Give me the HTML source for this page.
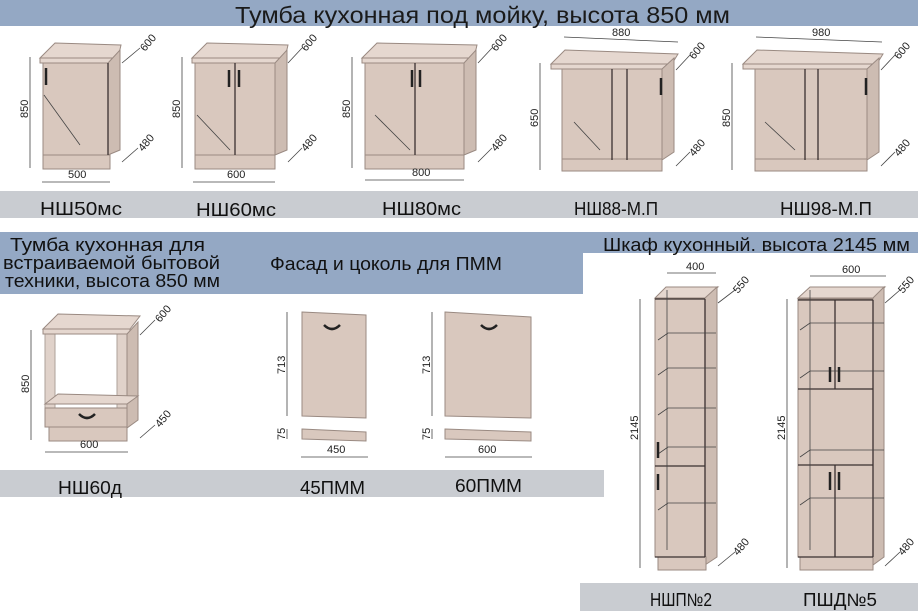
<!DOCTYPE html>
<html><head><meta charset="utf-8"><style>
html,body{margin:0;padding:0;background:#fff}
svg{display:block}
text{font-family:"Liberation Sans",sans-serif}
.t{font-size:23px;fill:#1a1a1a}
.l{font-size:18px;fill:#111}
.d{font-size:11px;fill:#222}
.c{fill:#d9c8be;stroke:#9a8a82;stroke-width:1}
.tp{fill:#e5d7cf;stroke:#9a8a82;stroke-width:1}
.s{fill:#cdbcb2;stroke:#9a8a82;stroke-width:1}
.dl{stroke:#444;stroke-width:0.8;fill:none}
.dk{stroke:#3a3030;stroke-width:1.3;fill:none}
.h{stroke:#222;stroke-width:2.5;fill:none}
</style></head><body>
<svg width="918" height="611" viewBox="0 0 918 611" xmlns="http://www.w3.org/2000/svg">
<rect x="0" y="0" width="918" height="26" fill="#94a8c4"/>
<rect x="0" y="191" width="918" height="27" fill="#c9ccd1"/>
<rect x="0" y="232" width="583" height="62" fill="#94a8c4"/>
<rect x="583" y="232" width="335" height="21" fill="#94a8c4"/>
<rect x="0" y="470" width="604" height="27" fill="#c9ccd1"/>
<rect x="580" y="583" width="338" height="28" fill="#c9ccd1"/>
<text x="235" y="23" class="t" textLength="495" lengthAdjust="spacingAndGlyphs">Тумба кухонная под мойку, высота 850 мм</text>
<text x="40" y="215" class="l" textLength="82" lengthAdjust="spacingAndGlyphs">НШ50мс</text>
<text x="196" y="216" class="l" textLength="80" lengthAdjust="spacingAndGlyphs">НШ60мс</text>
<text x="382" y="215" class="l" textLength="79" lengthAdjust="spacingAndGlyphs">НШ80мс</text>
<text x="574" y="215" class="l" textLength="84" lengthAdjust="spacingAndGlyphs">НШ88-М.П</text>
<text x="780" y="215" class="l" textLength="92" lengthAdjust="spacingAndGlyphs">НШ98-М.П</text>
<text x="10" y="251" class="l" textLength="195" lengthAdjust="spacingAndGlyphs">Тумба кухонная для</text>
<text x="3" y="269" class="l" textLength="217" lengthAdjust="spacingAndGlyphs">встраиваемой бытовой</text>
<text x="5" y="287" class="l" textLength="215" lengthAdjust="spacingAndGlyphs">техники, высота 850 мм</text>
<text x="270" y="270" class="l" textLength="232" lengthAdjust="spacingAndGlyphs">Фасад и цоколь для ПММ</text>
<text x="603" y="251" class="l" textLength="307" lengthAdjust="spacingAndGlyphs">Шкаф кухонный. высота 2145 мм</text>
<text x="58" y="494" class="l" textLength="64" lengthAdjust="spacingAndGlyphs">НШ60д</text>
<text x="300" y="494" class="l" textLength="65" lengthAdjust="spacingAndGlyphs">45ПММ</text>
<text x="455" y="492" class="l" textLength="67" lengthAdjust="spacingAndGlyphs">60ПММ</text>
<text x="650" y="606" class="l" textLength="62" lengthAdjust="spacingAndGlyphs">НШП№2</text>
<text x="803" y="606" class="l" textLength="74" lengthAdjust="spacingAndGlyphs">ПШД№5</text>

<g>
<polygon class="tp" points="40,58 55,43 121,45 118,58"/>
<rect class="tp" x="40" y="58" width="78" height="5"/>
<polygon class="s" points="108,63 120,50 120,150 108,155"/>
<rect class="c" x="43" y="63" width="65" height="92"/>
<rect class="c" x="43" y="155" width="67" height="14"/>
<line class="dk" x1="108" y1="63" x2="108" y2="155"/>
<line class="dl" x1="44" y1="95" x2="80" y2="145"/>
<line class="h" x1="46" y1="68" x2="46" y2="85"/>
<line class="dl" x1="30" y1="57" x2="30" y2="168"/><text class="d" transform="translate(28,118) rotate(-90)">850</text>
<line class="dl" x1="42" y1="182" x2="110" y2="182"/><text class="d" x="68" y="178">500</text>
<line class="dl" x1="122" y1="63" x2="140" y2="48"/><text class="d" transform="translate(145,52) rotate(-50)">600</text>
<line class="dl" x1="122" y1="162" x2="138" y2="148"/><text class="d" transform="translate(143,152) rotate(-50)">480</text>
</g>
<g>
<polygon class="tp" points="192,58 207,43 288,45 285,58"/>
<rect class="tp" x="192" y="58" width="93" height="5"/>
<polygon class="s" points="275,63 287,50 287,150 275,155"/>
<rect class="c" x="195" y="63" width="80" height="92"/>
<rect class="c" x="195" y="155" width="80" height="14"/>
<line class="dk" x1="235" y1="63" x2="235" y2="155"/>
<line class="dl" x1="197" y1="115" x2="230" y2="150"/>
<line class="h" x1="229" y1="70" x2="229" y2="87"/><line class="h" x1="239" y1="70" x2="239" y2="87"/>
<line class="dl" x1="182" y1="57" x2="182" y2="168"/><text class="d" transform="translate(180,118) rotate(-90)">850</text>
<line class="dl" x1="193" y1="182" x2="275" y2="182"/><text class="d" x="227" y="178">600</text>
<line class="dl" x1="288" y1="63" x2="302" y2="48"/><text class="d" transform="translate(306,52) rotate(-50)">600</text>
<line class="dl" x1="288" y1="162" x2="302" y2="148"/><text class="d" transform="translate(306,152) rotate(-50)">480</text>
</g>
<g>
<polygon class="tp" points="362,58 377,43 477,45 474,58"/>
<rect class="tp" x="362" y="58" width="112" height="5"/>
<polygon class="s" points="464,63 476,50 476,150 464,155"/>
<rect class="c" x="365" y="63" width="99" height="92"/>
<rect class="c" x="365" y="155" width="99" height="14"/>
<line class="dk" x1="415" y1="63" x2="415" y2="155"/>
<line class="dl" x1="375" y1="115" x2="410" y2="150"/>
<line class="h" x1="412" y1="70" x2="412" y2="87"/><line class="h" x1="420" y1="70" x2="420" y2="87"/>
<line class="dl" x1="352" y1="57" x2="352" y2="168"/><text class="d" transform="translate(350,118) rotate(-90)">850</text>
<line class="dl" x1="365" y1="180" x2="464" y2="180"/><text class="d" x="412" y="176">800</text>
<line class="dl" x1="478" y1="63" x2="492" y2="48"/><text class="d" transform="translate(496,52) rotate(-50)">600</text>
<line class="dl" x1="478" y1="162" x2="492" y2="148"/><text class="d" transform="translate(496,152) rotate(-50)">480</text>
</g>
<g>
<polygon class="tp" points="551,64 565,50 678,54 670,67"/>
<rect class="tp" x="551" y="64" width="119" height="5"/>
<polygon class="s" points="662,69 674,58 674,152 662,160"/>
<rect class="c" x="562" y="69" width="100" height="90"/>
<rect class="c" x="562" y="159" width="100" height="12"/>
<line class="dk" x1="627" y1="69" x2="627" y2="160"/>
<line class="dk" x1="612" y1="69" x2="612" y2="160"/>
<line class="dl" x1="574" y1="122" x2="600" y2="150"/>
<line class="h" x1="661" y1="78" x2="661" y2="95"/>
<line class="dl" x1="540" y1="63" x2="540" y2="170"/><text class="d" transform="translate(538,127) rotate(-90)">650</text>
<line class="dl" x1="564" y1="37" x2="678" y2="42"/><text class="d" x="612" y="36">880</text>
<line class="dl" x1="676" y1="70" x2="690" y2="55"/><text class="d" transform="translate(694,60) rotate(-50)">600</text>
<line class="dl" x1="676" y1="166" x2="690" y2="152"/><text class="d" transform="translate(694,157) rotate(-50)">480</text>
</g>
<g>
<polygon class="tp" points="743,64 757,50 883,54 875,67"/>
<rect class="tp" x="743" y="64" width="132" height="5"/>
<polygon class="s" points="867,69 879,58 879,152 867,160"/>
<rect class="c" x="755" y="69" width="112" height="90"/>
<rect class="c" x="755" y="159" width="112" height="12"/>
<line class="dk" x1="818" y1="69" x2="818" y2="160"/>
<line class="dk" x1="805" y1="69" x2="805" y2="160"/>
<line class="dl" x1="765" y1="122" x2="795" y2="150"/>
<line class="h" x1="866" y1="78" x2="866" y2="95"/>
<line class="dl" x1="732" y1="63" x2="732" y2="170"/><text class="d" transform="translate(730,127) rotate(-90)">850</text>
<line class="dl" x1="756" y1="37" x2="882" y2="42"/><text class="d" x="812" y="36">980</text>
<line class="dl" x1="881" y1="70" x2="895" y2="55"/><text class="d" transform="translate(899,60) rotate(-50)">600</text>
<line class="dl" x1="881" y1="166" x2="895" y2="152"/><text class="d" transform="translate(899,157) rotate(-50)">480</text>
</g>
<g>
<polygon class="tp" points="43,329 58,314 140,316 130,329"/>
<rect class="tp" x="43" y="329" width="87" height="5"/>
<rect class="c" x="45" y="334" width="10" height="80" opacity="0.8"/>
<rect class="c" x="117" y="334" width="10" height="80" opacity="0.8"/>
<polygon class="s" points="127,334 138,322 138,420 127,428"/>
<polygon class="tp" points="45,404 58,394 138,396 127,404"/>
<rect class="c" x="45" y="408" width="82" height="19"/>
<rect class="c" x="49" y="427" width="78" height="14"/>
<path class="h" d="M79,414 q8,8 16,0"/>
<line class="dl" x1="31" y1="330" x2="31" y2="440"/><text class="d" transform="translate(29,393) rotate(-90)">850</text>
<line class="dl" x1="45" y1="452" x2="128" y2="452"/><text class="d" x="80" y="448">600</text>
<line class="dl" x1="140" y1="335" x2="155" y2="320"/><text class="d" transform="translate(160,323) rotate(-50)">600</text>
<line class="dl" x1="140" y1="438" x2="155" y2="425"/><text class="d" transform="translate(160,428) rotate(-50)">450</text>
</g>
<g>
<polygon class="c" points="302,312 366,315 366,418 302,416"/>
<path class="h" d="M324,325 q8,8 16,0"/>
<polygon class="c" points="302,429 366,432 366,441 302,439"/>
<line class="dl" x1="287" y1="312" x2="287" y2="416"/><text class="d" transform="translate(285,374) rotate(-90)">713</text>
<line class="dl" x1="287" y1="429" x2="287" y2="439"/><text class="d" transform="translate(285,440) rotate(-90)">75</text>
<line class="dl" x1="301" y1="457" x2="368" y2="457"/><text class="d" x="327" y="453">450</text>
</g>
<g>
<polygon class="c" points="445,312 531,317 531,418 445,416"/>
<path class="h" d="M481,325 q8,8 16,0"/>
<polygon class="c" points="445,429 531,432 531,441 445,439"/>
<line class="dl" x1="432" y1="312" x2="432" y2="416"/><text class="d" transform="translate(430,374) rotate(-90)">713</text>
<line class="dl" x1="432" y1="429" x2="432" y2="439"/><text class="d" transform="translate(430,440) rotate(-90)">75</text>
<line class="dl" x1="445" y1="457" x2="532" y2="457"/><text class="d" x="478" y="453">600</text>
</g>
<g>
<polygon class="tp" points="655,298 666,287 718,287 705,298"/>
<polygon class="s" points="705,298 717,287 717,557 705,565"/>
<rect class="c" x="655" y="299" width="50" height="258"/>
<rect class="c" x="658" y="557" width="48" height="13"/>
<line class="dk" x1="655" y1="299" x2="705" y2="299"/>
<line class="dk" x1="705" y1="299" x2="705" y2="557"/>
<line class="dk" x1="655" y1="466" x2="705" y2="466"/>
<line class="dk" x1="655" y1="557" x2="705" y2="557"/>
<g class="dl"><path d="M658,340 l10,-7 h48 M658,375 l10,-7 h48 M658,415 l10,-7 h48 M658,454 l10,-7 h48 M658,510 l10,-7 h48"/><line x1="667" y1="290" x2="667" y2="550"/></g>
<line class="h" x1="658" y1="442" x2="658" y2="458"/><line class="h" x1="658" y1="474" x2="658" y2="490"/>
<line class="dl" x1="640" y1="299" x2="640" y2="568"/><text class="d" transform="translate(638,440) rotate(-90)">2145</text>
<line class="dl" x1="667" y1="273" x2="716" y2="273"/><text class="d" x="686" y="270">400</text>
<line class="dl" x1="718" y1="303" x2="735" y2="290"/><text class="d" transform="translate(738,294) rotate(-50)">550</text>
<line class="dl" x1="718" y1="566" x2="735" y2="552"/><text class="d" transform="translate(738,556) rotate(-50)">480</text>
</g>
<g>
<polygon class="tp" points="798,298 810,287 885,287 873,298"/>
<polygon class="s" points="873,298 884,287 884,557 873,565"/>
<rect class="c" x="798" y="299" width="75" height="258"/>
<rect class="c" x="800" y="557" width="73" height="13"/>
<line class="dk" x1="798" y1="300" x2="873" y2="300"/>
<line class="dk" x1="873" y1="300" x2="873" y2="557"/>
<line class="dk" x1="835" y1="300" x2="835" y2="389"/>
<line class="dk" x1="798" y1="389" x2="873" y2="389"/>
<line class="dk" x1="798" y1="465" x2="873" y2="465"/>
<line class="dk" x1="835" y1="465" x2="835" y2="557"/>
<line class="dk" x1="798" y1="557" x2="873" y2="557"/>
<g class="dl"><path d="M800,330 l10,-7 h74 M800,378 l10,-7 h74 M800,457 l10,-7 h74 M800,505 l10,-7 h74"/><line x1="810" y1="290" x2="810" y2="550"/></g>
<line class="h" x1="830" y1="367" x2="830" y2="382"/><line class="h" x1="839" y1="367" x2="839" y2="382"/>
<line class="h" x1="830" y1="472" x2="830" y2="490"/><line class="h" x1="839" y1="472" x2="839" y2="490"/>
<line class="dl" x1="787" y1="299" x2="787" y2="568"/><text class="d" transform="translate(785,440) rotate(-90)">2145</text>
<line class="dl" x1="810" y1="276" x2="886" y2="276"/><text class="d" x="842" y="273">600</text>
<line class="dl" x1="885" y1="303" x2="900" y2="290"/><text class="d" transform="translate(903,294) rotate(-50)">550</text>
<line class="dl" x1="885" y1="566" x2="900" y2="552"/><text class="d" transform="translate(903,556) rotate(-50)">480</text>
</g>
</svg>
</body></html>
